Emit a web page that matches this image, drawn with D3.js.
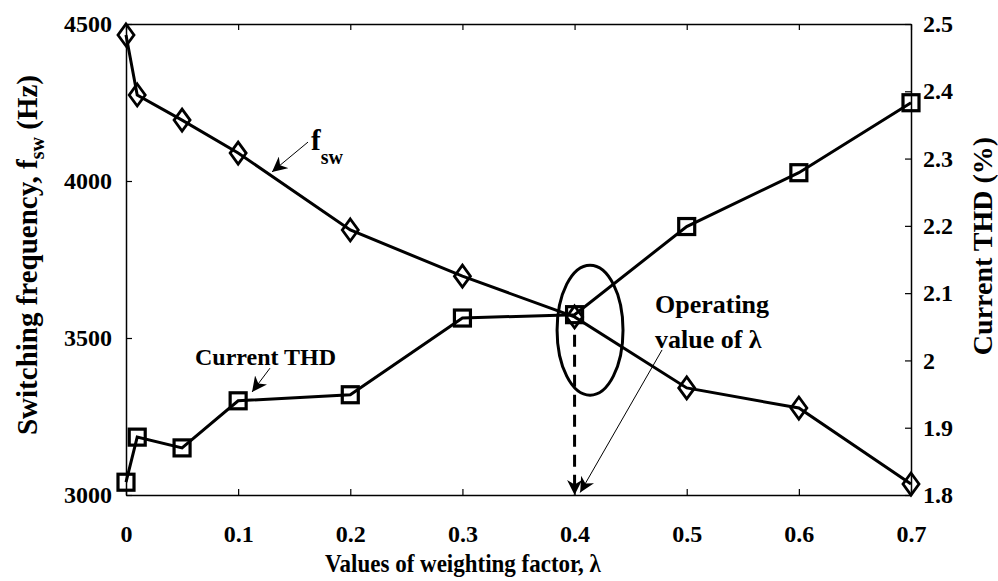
<!DOCTYPE html>
<head>
  <title>Switching frequency and current THD vs weighting factor</title>
  <style>
    body { margin: 0; background: #fff; }
    text { font-family: "Liberation Serif", "Times New Roman", serif; font-weight: bold; fill: #000; }
  </style>
</head>
<body>
  <script src="https://cdn.jsdelivr.net/npm/d3@7/dist/d3.min.js"></script>
  <script>
    // data
    var lambdaVals = [0, 0.01, 0.05, 0.1, 0.2, 0.3, 0.4, 0.5, 0.6, 0.7];
    var fswVals = [4465, 4274, 4194, 4089, 3844, 3697, 3567, 3341, 3277, 3035];
    var thdVals = [1.819, 1.886, 1.870, 1.940, 1.949, 2.063, 2.068, 2.199, 2.279, 2.383];
    var xTicks = [0, 0.1, 0.2, 0.3, 0.4, 0.5, 0.6, 0.7];
    var leftTicks = [3000, 3500, 4000, 4500];
    var rightTicks = [1.8, 1.9, 2, 2.1, 2.2, 2.3, 2.4, 2.5];

    var margin = {left: 126, top: 24},
        width = 785,
        height = 471;

    var svg = d3.select("body").append("svg")
        .attr("width", 998)
        .attr("height", 581);

    var defs = svg.append("defs");
    defs.append("marker")
        .attr("id", "head")
        .attr("viewBox", "0 0 10 10")
        .attr("refX", 10).attr("refY", 5)
        .attr("markerWidth", 15).attr("markerHeight", 15)
        .attr("markerUnits", "userSpaceOnUse")
        .attr("orient", "auto")
      .append("path")
        .attr("d", "M0,0 L10,5 L0,10 L3,5 Z")
        .attr("fill", "#000");

    var g = svg.append("g").attr("transform", "translate(" + margin.left + "," + margin.top + ")");

    var x = d3.scaleLinear().domain([0, 0.7]).range([0, width]);
    var yL = d3.scaleLinear().domain([3000, 4500]).range([height, 0]);
    var yR = d3.scaleLinear().domain([1.8, 2.5]).range([height, 0]);

    // axes, ticks pointing inward
    var fmtX = function(d) { return d === 0 ? "0" : d3.format(".1f")(d); };
    var fmtR = function(d) { return (d === 2) ? "2" : d3.format(".1f")(d); };

    g.append("g").attr("transform", "translate(0," + height + ")")
        .call(d3.axisBottom(x).tickValues(xTicks).tickFormat(fmtX).tickSizeInner(-6).tickSizeOuter(0).tickPadding(30));
    g.append("g")
        .call(d3.axisTop(x).tickValues(xTicks).tickFormat("").tickSizeInner(-6).tickSizeOuter(0));
    g.append("g")
        .call(d3.axisLeft(yL).tickValues(leftTicks).tickFormat(d3.format("d")).tickSizeInner(-6).tickSizeOuter(0).tickPadding(14));
    g.append("g").attr("transform", "translate(" + width + ",0)")
        .call(d3.axisRight(yR).tickValues(rightTicks).tickFormat(fmtR).tickSizeInner(-6).tickSizeOuter(0).tickPadding(12));

    g.selectAll(".domain").attr("stroke", "#000").attr("stroke-width", 1.5);
    g.selectAll(".tick line").attr("stroke", "#000").attr("stroke-width", 1.2);
    g.selectAll(".tick text").style("font-size", "24px").attr("fill", "#000");

    // axis titles
    g.append("text")
        .attr("transform", "translate(" + (463 - margin.left) + "," + (572 - margin.top) + ") scale(1,1.1)")
        .attr("text-anchor", "middle")
        .style("font-size", "23px")
        .text("Values of weighting factor, \u03bb");

    var lt = g.append("text")
        .attr("transform", "translate(" + (27 - margin.left) + "," + (255 - margin.top) + ") rotate(-90)")
        .attr("text-anchor", "middle")
        .attr("dy", "0.35em")
        .style("font-size", "29px");
    lt.append("tspan").text("Switching frequency, f");
    lt.append("tspan").attr("dy", "7").style("font-size", "20px").text("sw");
    lt.append("tspan").attr("dy", "-7").text(" (Hz)");

    g.append("text")
        .attr("transform", "translate(" + (982 - margin.left) + "," + (246 - margin.top) + ") rotate(-90)")
        .attr("text-anchor", "middle")
        .attr("dy", "0.35em")
        .style("font-size", "28px")
        .text("Current THD (%)");

    // series
    var fswLine = d3.line().x(function(d, i) { return x(lambdaVals[i]); }).y(function(d) { return yL(d); });
    var thdLine = d3.line().x(function(d, i) { return x(lambdaVals[i]); }).y(function(d) { return yR(d); });

    g.append("path").datum(fswVals)
        .attr("d", fswLine).attr("fill", "none").attr("stroke", "#000").attr("stroke-width", 3);
    g.append("path").datum(thdVals)
        .attr("d", thdLine).attr("fill", "none").attr("stroke", "#000").attr("stroke-width", 3);

    g.selectAll(".dia").data(fswVals).enter().append("path")
        .attr("class", "dia")
        .attr("transform", function(d, i) { return "translate(" + x(lambdaVals[i]) + "," + yL(d) + ")"; })
        .attr("d", "M0,-11 L8,0 L0,11 L-8,0 Z")
        .attr("fill", "none").attr("stroke", "#000").attr("stroke-width", 2.8);

    g.selectAll(".sq").data(thdVals).enter().append("rect")
        .attr("class", "sq")
        .attr("x", function(d, i) { return x(lambdaVals[i]) - 8; })
        .attr("y", function(d) { return yR(d) - 8; })
        .attr("width", 16).attr("height", 16)
        .attr("fill", "none").attr("stroke", "#000").attr("stroke-width", 3.2);

    // annotations
    var fl = g.append("text").attr("x", x(0.165)).attr("y", yL(4099)).style("font-size", "29px");
    fl.append("tspan").text("f");
    fl.append("tspan").attr("dy", "14").style("font-size", "20px").text("sw");
    g.append("line")
        .attr("x1", x(0.1623)).attr("y1", yL(4124)).attr("x2", x(0.1302)).attr("y2", yL(4029))
        .attr("stroke", "#000").attr("stroke-width", 1).attr("marker-end", "url(#head)");

    g.append("text").attr("x", x(0.0615)).attr("y", yL(3414))
        .style("font-size", "24px").text("Current THD");
    g.append("line")
        .attr("x1", x(0.1284)).attr("y1", yL(3404)).attr("x2", x(0.1124)).attr("y2", yL(3328))
        .attr("stroke", "#000").attr("stroke-width", 1).attr("marker-end", "url(#head)");

    g.append("ellipse")
        .attr("cx", x(0.4138)).attr("cy", yL(3525))
        .attr("rx", x(0.0294) - x(0)).attr("ry", yL(3000) - yL(3207))
        .attr("fill", "none").attr("stroke", "#000").attr("stroke-width", 3);

    g.append("line")
        .attr("x1", x(0.4)).attr("y1", yL(3510)).attr("x2", x(0.4)).attr("y2", yL(3000))
        .attr("stroke", "#000").attr("stroke-width", 3).attr("stroke-dasharray", "12,8")
        .attr("marker-end", "url(#head)");

    var op = g.append("text").attr("x", x(0.4717)).attr("y", yL(3580)).style("font-size", "26px");
    op.append("tspan").text("Operating");
    op.append("tspan").attr("x", x(0.4717)).attr("y", yL(3468)).text("value of \u03bb");
    g.append("line")
        .attr("x1", x(0.478)).attr("y1", yL(3462)).attr("x2", x(0.405)).attr("y2", yL(3008))
        .attr("stroke", "#000").attr("stroke-width", 1).attr("marker-end", "url(#head)");
  </script>
</body>
